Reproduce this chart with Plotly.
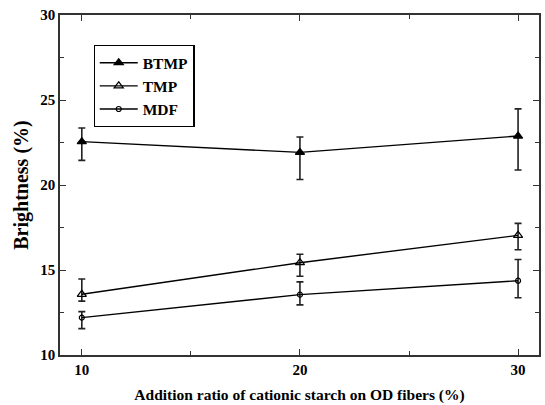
import plotly.graph_objects as go

x_vals = [10, 20, 30]
btmp = [22.55, 21.92, 22.88]
btmp_up = [0.8, 0.9, 1.6]
btmp_dn = [1.1, 1.6, 2.0]
tmp = [13.57, 15.43, 17.04]
tmp_up = [0.9, 0.5, 0.7]
tmp_dn = [0.4, 0.8, 0.85]
mdf = [12.2, 13.55, 14.37]
mdf_up = [0.35, 0.75, 1.25]
mdf_dn = [0.65, 0.6, 1.0]

font_fam = "Liberation Serif, Times New Roman, serif"

fig = go.Figure()

def add(name, y, up, dn, symbol, msize):
    fig.add_trace(go.Scatter(
        x=x_vals, y=y, name=name, mode="lines+markers",
        line=dict(color="black", width=1.4),
        marker=dict(symbol=symbol, size=msize, color="black",
                    line=dict(color="black", width=1.2)),
        error_y=dict(type="data", symmetric=False, array=up, arrayminus=dn,
                     color="#222", thickness=1.6, width=3.5),
    ))

add("BTMP", btmp, btmp_up, btmp_dn, "triangle-up", 8)
add("TMP", tmp, tmp_up, tmp_dn, "triangle-up-open", 8)
add("MDF", mdf, mdf_up, mdf_dn, "circle-open", 5)

axis_common = dict(
    showline=True, linecolor="#333", linewidth=1.5, mirror="ticks",
    ticks="inside", ticklen=6, tickwidth=1.2, tickcolor="#333",
    showgrid=False, zeroline=False,
    tickfont=dict(family=font_fam, size=15, color="black", weight="bold"),
)

fig.update_xaxes(
    range=[9.0, 30.96], tickvals=[10, 20, 30],
    minor=dict(tickvals=[15, 25], ticks="inside", ticklen=4, tickcolor="#333"),
    title=dict(text="Addition ratio of cationic starch on OD fibers (%)",
               font=dict(family=font_fam, size=15.5, color="black", weight="bold"),
               standoff=12),
    **axis_common,
)
fig.update_yaxes(
    range=[10, 30], tickvals=[10, 15, 20, 25, 30],
    minor=dict(tickvals=[12.5, 17.5, 22.5, 27.5], ticks="inside", ticklen=4, tickcolor="#333"),
    title=dict(text="Brightness (%)",
               font=dict(family=font_fam, size=20, color="black", weight="bold"),
               standoff=6),
    **axis_common,
)

# legend drop shadow (offset dark box behind the legend)
fig.add_shape(type="rect", xref="paper", yref="paper",
              x0=(97 - 60) / 481, x1=(195.5 - 60) / 481,
              y0=(355 - 127) / 340, y1=(355 - 48) / 340,
              fillcolor="#222", line=dict(width=0), layer="above")

fig.update_layout(
    width=545, height=405,
    margin=dict(l=60, r=4, t=15, b=50),
    paper_bgcolor="white", plot_bgcolor="white",
    showlegend=True,
    legend=dict(
        x=0.07, y=0.912, xanchor="left", yanchor="top",
        bgcolor="white", bordercolor="black", borderwidth=1.2,
        font=dict(family=font_fam, size=15.5, color="black", weight="bold"),
        itemwidth=38, tracegroupgap=0,
    ),
)

fig.write_html("out.html")
